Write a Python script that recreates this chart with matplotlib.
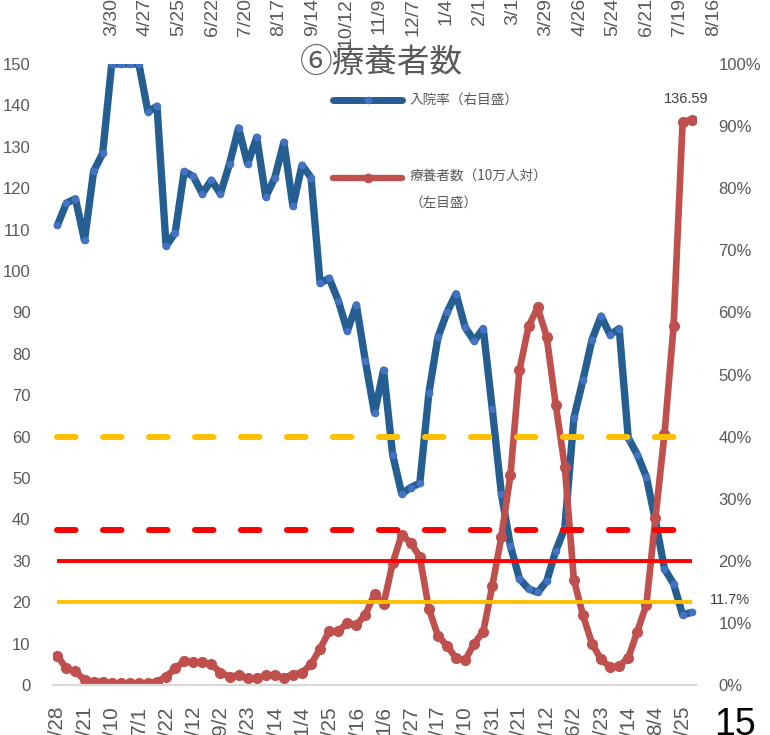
import matplotlib
matplotlib.use("Agg")
import matplotlib.pyplot as plt
from matplotlib.lines import Line2D
from matplotlib.ticker import PercentFormatter
import numpy as np

plt.rcParams['font.family'] = ['Liberation Sans', 'Noto Sans CJK JP', 'DejaVu Sans']

# ---------------- data ----------------
date_labels = ["4/28", "5/21", "6/10", "7/1", "7/22", "8/12", "9/2", "9/23",
               "10/14", "11/4", "11/25", "12/16", "1/6", "1/27", "2/17", "3/10",
               "3/31", "4/21", "5/12", "6/2", "6/23", "7/14", "8/4", "8/25"]
top_date_labels = ["3/30", "4/27", "5/25", "6/22", "7/20", "8/17", "9/14", "10/12",
                   "11/9", "12/7", "1/4", "2/1", "3/1", "3/29", "4/26", "5/24",
                   "6/21", "7/19", "8/16"]

hosp_rate_pct = [74.0, 77.6, 78.3, 71.6, 82.7, 85.6, 100, 100, 100, 100,
                 92.3, 93.2, 70.7, 72.8, 82.7, 81.9, 79.1, 81.3, 79.1, 83.9,
                 89.7, 83.9, 88.2, 78.6, 81.7, 87.4, 77.1, 83.7, 81.7, 64.7,
                 65.5, 61.9, 57.0, 61.2, 52.1, 43.8, 50.7, 37.1, 30.8, 31.8,
                 32.5, 47.0, 56.0, 60.0, 63.0, 57.6, 55.4, 57.4, 44.4, 30.8,
                 22.4, 17.1, 15.5, 14.9, 16.7, 21.6, 25.3, 43.0, 49.1, 55.6,
                 59.4, 56.4, 57.4, 39.8, 37.1, 33.5, 26.5, 18.7, 16.3, 11.3,
                 11.7]

recuperating_per100k = [7.0, 4.0, 3.3, 1.2, 0.8, 0.8, 0.4, 0.4, 0.4, 0.4,
                        0.4, 0.8, 2.0, 4.0, 5.8, 5.5, 5.5, 5.0, 3.0, 2.0,
                        2.3, 1.6, 1.6, 2.3, 2.3, 1.8, 2.5, 3.0, 5.0, 8.8,
                        13.0, 13.0, 15.0, 14.5, 17.0, 22.0, 19.5, 29.4, 36.3, 34.3,
                        31.0, 18.4, 11.9, 9.5, 6.5, 6.0, 10.0, 12.9, 23.9, 35.8,
                        50.7, 76.1, 86.6, 91.2, 84.1, 67.7, 52.7, 25.4, 16.9, 10.0,
                        6.2, 4.3, 4.6, 6.5, 12.9, 19.4, 40.3, 60.7, 86.6, 136.0,
                        136.59]

rate_thresholds_pct = [40, 25]      # dashed lines, right axis (yellow, red)
count_thresholds = [30, 20]         # solid lines, left axis (red, yellow)

title_text = "⑥療養者数"
legend_labels = ["入院率（右目盛）", "療養者数（10万人対）", "（左目盛）"]
page_number = "15"

# ---------------- styles ----------------
BLUE = '#255E91'
BLUE_M = '#4472C4'
RED = '#C0504D'
YELLOW = '#FFC000'
PURE_RED = '#FF0000'
GRAY = '#595959'
CJK = ['Noto Sans CJK JP', 'DejaVu Sans']

W, H = 770, 735
fig = plt.figure(figsize=(W / 100, H / 100), dpi=100)
ax = fig.add_axes([52.8 / W, 1 - 685 / H, (696.2 - 52.8) / W, (685 - 64) / H])
ax2 = ax.twinx()
ax.set_zorder(ax2.get_zorder() + 1)
ax.patch.set_visible(False)

x = np.arange(len(recuperating_per100k))

ax2.plot(x, hosp_rate_pct, color=BLUE, lw=5.3, marker='o', ms=4.5,
         mfc=BLUE_M, mec=BLUE_M, solid_joinstyle='round', solid_capstyle='round',
         zorder=2)
ax.plot(x, recuperating_per100k, color=RED, lw=4.8, marker='o', ms=7,
        mfc=RED, mec=RED, solid_joinstyle='round', solid_capstyle='round',
        zorder=2)

# threshold lines
for t, c in zip(rate_thresholds_pct, [YELLOW, PURE_RED]):
    ax.plot([x[0], x[-1]], [t, t], transform=ax2.transData, color=c, lw=4.3,
            linestyle=(0, (3.1, 4.6)), dash_capstyle='round', zorder=3)
for t, c in zip(count_thresholds, [PURE_RED, YELLOW]):
    ax.plot([x[0], x[-1]], [t, t], color=c, lw=2.8, solid_capstyle='butt', zorder=3)

# axes
ax.set_xlim(-0.5, len(x) - 0.5)
ax.set_ylim(0, 150)
ax2.set_ylim(0, 100)
ax.set_yticks(np.arange(0, 151, 10))
ax2.set_yticks(np.arange(0, 101, 10))
ax2.yaxis.set_major_formatter(PercentFormatter(100, decimals=0))
ax.set_xticks(x[::3])
ax.set_xticklabels(date_labels)

for a in (ax, ax2):
    for s in a.spines.values():
        s.set_visible(False)
ax.spines['bottom'].set_visible(True)
ax.spines['bottom'].set_color('#D9D9D9')
ax.spines['bottom'].set_linewidth(1.6)

ax.tick_params(axis='y', length=0, pad=16, labelsize=12, labelcolor=GRAY)
ax2.tick_params(axis='y', length=0, pad=16, labelsize=12, labelcolor=GRAY)
ax.tick_params(axis='x', length=0, pad=15, labelsize=15, labelcolor=GRAY,
               labelrotation=90)

# data labels
ax.annotate(f"{recuperating_per100k[-1]:.2f}", xy=(x[-1], recuperating_per100k[-1]),
            xytext=(-5, 21), textcoords='offset pixels', ha='center', va='center',
            fontsize=10.5, color='#404040', annotation_clip=False)
ax2.annotate(f"{hosp_rate_pct[-1]:.1f}%", xy=(x[-1], hosp_rate_pct[-1]),
             xytext=(38, 12), textcoords='offset pixels', ha='center', va='center',
             fontsize=10.5, color='#404040', annotation_clip=False)

# title
fig.text(381 / W, 1 - 63 / H, title_text, ha='center', va='center',
         fontsize=23.5, color=GRAY, family=CJK)

# legend (manual, Excel style)
h1 = Line2D([333 / W, 367.5 / W, 402 / W], [1 - 100 / H] * 3, transform=fig.transFigure,
            color=BLUE, lw=5.0, marker='o', markevery=[1], ms=4.5, mfc=BLUE_M, mec=BLUE_M,
            solid_capstyle='round')
h2 = Line2D([333 / W, 367.5 / W, 402 / W], [1 - 178 / H] * 3, transform=fig.transFigure,
            color=RED, lw=4.6, marker='o', markevery=[1], ms=6, mfc=RED, mec=RED,
            solid_capstyle='round')
fig.add_artist(h1)
fig.add_artist(h2)
fig.text(410 / W, 1 - 100 / H, legend_labels[0], ha='left', va='center',
         fontsize=9.8, color=GRAY, family=CJK)
fig.text(410 / W, 1 - 177 / H, legend_labels[1], ha='left', va='center',
         fontsize=9.8, color=GRAY, family=CJK)
fig.text(410 / W, 1 - 203 / H, legend_labels[2], ha='left', va='center',
         fontsize=9.8, color=GRAY, family=CJK)

# dates of the chart above (cut off at the top edge, as in the reference)
for k, lab in enumerate(top_date_labels):
    fig.text((112 + 33.4 * k) / W, 1 + 2 / H, lab, rotation=90, ha='center', va='top',
             fontsize=14, color=GRAY)

# page number
fig.text(735 / W, 1 - 735 / H, page_number, ha='center', va='baseline',
         fontsize=27, color='black')

fig.savefig("out.png", dpi=100)
